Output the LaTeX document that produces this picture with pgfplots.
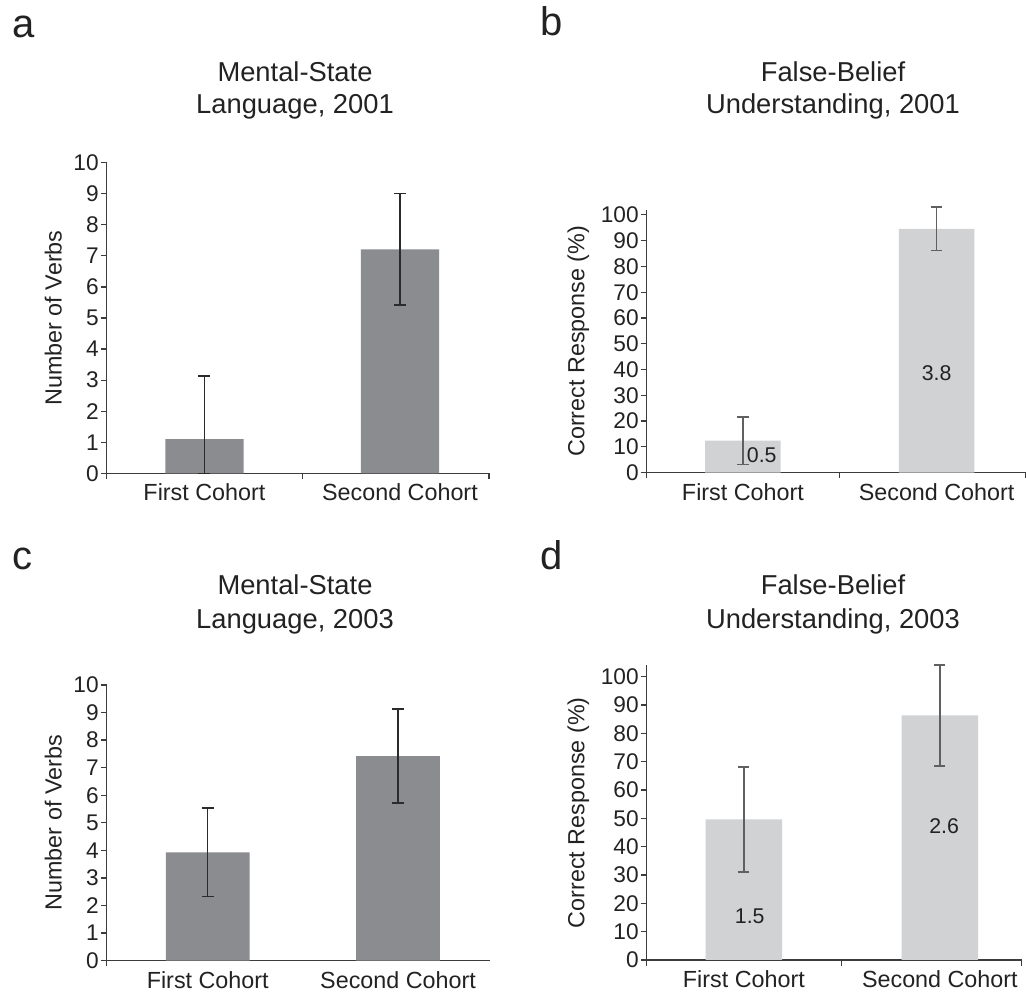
\documentclass[border=0pt]{standalone}
\usepackage{fontspec}
\setmainfont{Liberation Sans}
\usepackage{pgfplots}
\pgfplotsset{compat=1.18}
\definecolor{darkbar}{HTML}{8B8C90}
\definecolor{lightbar}{HTML}{D1D2D4}
\definecolor{axcol}{HTML}{3C3C3C}
\definecolor{txt}{HTML}{222222}
\definecolor{errdark}{HTML}{2B2B2B}
\definecolor{errgray}{HTML}{606060}

\pgfplotsset{
  panel/.style={
    scale only axis, anchor=south west,
    axis x line=bottom, axis y line=left,
    axis line style={-, draw=axcol, line width=1pt},
    tick align=outside,
    major tick length=4.3pt, minor tick length=4.3pt,
    tick style={draw=axcol, line width=0.9pt},
    major x tick style={draw=none},
    xtick={0,1}, xticklabels={First Cohort, Second Cohort},
    x tick label style={font=\fontsize{17.5}{17.5}\selectfont, text=txt},
    y tick label style={font=\fontsize{17}{17}\selectfont, text=txt, inner sep=1.5pt},
    /pgf/number format/assume math mode=true,
    ymin=0, clip=false,
    ybar, bar shift=0pt,
    every axis y label/.style={rotate=90, anchor=center, font=\fontsize{17.5}{17.5}\selectfont, text=txt},
  },
  errd/.style={error bars/.cd, y dir=both, y explicit,
    error bar style={line width=1.1pt, draw=errdark},
    error mark options={rotate=90, line width=1.1pt, mark size=4.5pt, draw=errdark}},
  errg/.style={error bars/.cd, y dir=both, y explicit,
    error bar style={line width=1.1pt, draw=errgray},
    error mark options={rotate=90, line width=1.1pt, mark size=4.2pt, draw=errgray}},
}

\begin{document}
\begin{tikzpicture}
\useasboundingbox (0,0) rectangle (769.5pt,745.5pt);

% ---------- panel a ----------
\begin{axis}[panel, at={(80.0pt,390.5pt)}, width=286.7pt, height=233.0pt,
  xmin=-0.5, xmax=1.455, ymax=10, ytick={0,1,...,10},
  minor xtick={-0.5,0.5,1.455}, bar width=0.4,
  ylabel={Number of Verbs},
  ylabel style={at={(axis description cs:-0.1397,0.5)}}]
\addplot[fill=darkbar, draw=none, errd] coordinates {
  (0,1.1) += (0,2.03) -= (0,1.1)
  (1,7.21) +- (0,1.79)
};
\end{axis}

% ---------- panel b ----------
\begin{axis}[panel, at={(485.0pt,391.0pt)}, width=284.3pt, height=197.2pt,
  xmin=-0.497, xmax=1.46, ymax=102, ytick={0,10,...,100},
  minor xtick={-0.497,0.5,1.46}, bar width=0.39,
  ylabel={Correct Response (\%)},
  ylabel style={at={(axis description cs:-0.1804,0.5)}}]
\addplot[fill=lightbar, draw=none, errg] coordinates {
  (0,12.4) +- (0,9.2)
  (1,94.6) +- (0,8.4)
};
\node[font=\fontsize{16}{16}\selectfont, text=txt] at (axis cs:0.097,6.6) {0.5};
\node[font=\fontsize{16}{16}\selectfont, text=txt] at (axis cs:1,38.6) {3.8};
\end{axis}

% ---------- panel c ----------
\begin{axis}[panel, at={(80.0pt,25.0pt)}, width=287.5pt, height=206.8pt,
  xmin=-0.531, xmax=1.483, ymax=10, ytick={0,1,...,10},
  minor xtick={-0.531}, bar width=0.44,
  ylabel={Number of Verbs},
  ylabel style={at={(axis description cs:-0.1393,0.5)}}]
\addplot[fill=darkbar, draw=none, errd] coordinates {
  (0,3.93) +- (0,1.6)
  (1,7.42) +- (0,1.7)
};
\end{axis}

% ---------- panel d ----------
\begin{axis}[panel, at={(485.0pt,25.5pt)}, width=281.2pt, height=221pt,
  xmin=-0.496, xmax=1.417, ymax=104, ytick={0,10,...,100},
  minor xtick={-0.496,0.5,1.417}, bar width=0.39,
  ylabel={Correct Response (\%)},
  ylabel style={at={(axis description cs:-0.1824,0.5)}}]
\addplot[fill=lightbar, draw=none, errg] coordinates {
  (0,49.6) +- (0,18.5)
  (1,86.3) +- (0,17.8)
};
\node[font=\fontsize{16}{16}\selectfont, text=txt] at (axis cs:0.03,15.6) {1.5};
\node[font=\fontsize{16}{16}\selectfont, text=txt] at (axis cs:1.022,47.4) {2.6};
\end{axis}

% ---------- titles and panel letters ----------
\begin{scope}[every node/.style={inner sep=0pt, text=txt}]
\node[anchor=base, font=\fontsize{20.5}{20.5}\selectfont] at (221.25pt,684.2pt) {Mental-State};
\node[anchor=base, font=\fontsize{20.5}{20.5}\selectfont] at (221.25pt,660.2pt) {Language, 2001};
\node[anchor=base, font=\fontsize{20.5}{20.5}\selectfont] at (624.75pt,684.2pt) {False-Belief};
\node[anchor=base, font=\fontsize{20.5}{20.5}\selectfont] at (624.75pt,660.2pt) {Understanding, 2001};
\node[anchor=base, font=\fontsize{20.5}{20.5}\selectfont] at (221.25pt,299.25pt) {Mental-State};
\node[anchor=base, font=\fontsize{20.5}{20.5}\selectfont] at (221.25pt,274.3pt) {Language, 2003};
\node[anchor=base, font=\fontsize{20.5}{20.5}\selectfont] at (624.75pt,299.25pt) {False-Belief};
\node[anchor=base, font=\fontsize{20.5}{20.5}\selectfont] at (624.75pt,274.3pt) {Understanding, 2003};
\node[anchor=base west, font=\fontsize{30}{30}\selectfont] at (9.3pt,717.5pt) {a};
\node[anchor=base west, font=\fontsize{30}{30}\selectfont] at (405pt,718.5pt) {b};
\node[anchor=base west, font=\fontsize{30}{30}\selectfont] at (9pt,318pt) {c};
\node[anchor=base west, font=\fontsize{30}{30}\selectfont] at (405.2pt,318pt) {d};
\end{scope}
\end{tikzpicture}
\end{document}
